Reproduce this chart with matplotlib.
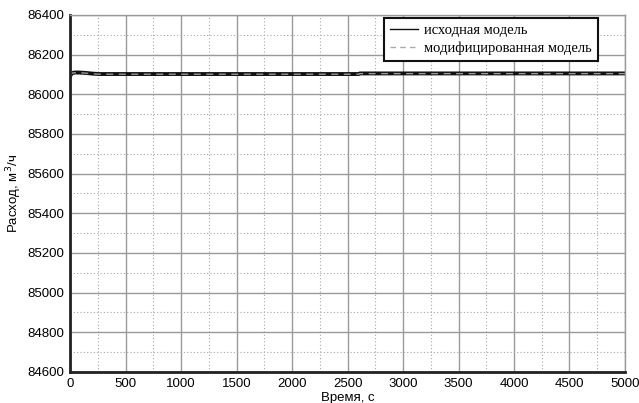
import numpy as np
import matplotlib.pyplot as plt
from matplotlib.ticker import MultipleLocator
from matplotlib.lines import Line2D

# время, с и расход, м3/ч
t_orig = [0, 10, 30, 60, 100, 150, 200, 260, 1000, 2000, 2600, 2610, 4000, 5000]
q_orig = [86092, 86104, 86109, 86110, 86109, 86107, 86104, 86102, 86102, 86102, 86102, 86105, 86105, 86105]

t_mod = [0, 10, 30, 60, 100, 150, 200, 260, 1000, 2000, 2600, 2610, 4000, 5000]
q_mod = [86094, 86105, 86108, 86109, 86108, 86106, 86103, 86101, 86101, 86101, 86101, 86104, 86104, 86104]

x_ticks = np.arange(0, 5001, 500)
y_ticks = np.arange(84600, 86401, 200)

sans = ['Liberation Sans', 'DejaVu Sans']
serif = ['Liberation Serif', 'DejaVu Serif']

fig, ax = plt.subplots(figsize=(6.39, 4.03), dpi=100)
fig.subplots_adjust(left=0.11, right=0.978, top=0.963, bottom=0.077)

ax.plot(t_orig, q_orig, color='#111111', lw=2.8)
ax.plot(t_mod, q_mod, color='#999999', lw=1.0, ls=(0, (5, 4)))

ax.set_xlim(0, 5000)
ax.set_ylim(84600, 86400)
ax.set_xticks(x_ticks)
ax.set_yticks(y_ticks)
ax.xaxis.set_minor_locator(MultipleLocator(250))
ax.yaxis.set_minor_locator(MultipleLocator(100))

ax.grid(which='major', color='#9a9a9a', lw=1.0, ls='-')
ax.grid(which='minor', color='#a8a8a8', lw=0.8, ls=(0, (1, 2)))
ax.set_axisbelow(True)

ax.tick_params(which='both', length=0, labelsize=9.5, pad=4)
for lbl in ax.get_xticklabels() + ax.get_yticklabels():
    lbl.set_family(sans)

for side in ['left', 'bottom']:
    ax.spines[side].set_linewidth(2)
    ax.spines[side].set_color('#222222')
for side in ['top', 'right']:
    ax.spines[side].set_linewidth(1)
    ax.spines[side].set_color('#9a9a9a')

ax.set_xlabel('Время, с', family=sans, fontsize=9.5, labelpad=2)
ax.set_ylabel('Расход, м$^3$/ч', family=sans, fontsize=9.5, labelpad=3)

handles = [Line2D([], [], color='#111111', lw=1.0),
           Line2D([], [], color='#aaaaaa', lw=1.0, ls=(0, (4, 3)))]
labels = ['исходная модель', 'модифицированная модель']
leg = ax.legend(handles, labels, loc='upper right', bbox_to_anchor=(0.951, 0.992),
                prop={'family': serif, 'size': 10.5},
                frameon=True, fancybox=False, handlelength=1.9, borderpad=0.42,
                labelspacing=0.3, handletextpad=0.4, borderaxespad=0)
leg.get_frame().set_edgecolor('#111111')
leg.get_frame().set_linewidth(1.5)
leg.get_frame().set_alpha(1)

fig.savefig('out.png', dpi=100)
